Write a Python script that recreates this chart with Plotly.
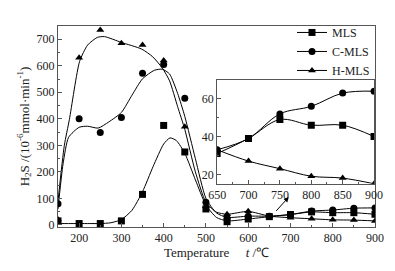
import plotly.graph_objects as go

# ---- data ----
temps = [150, 200, 250, 300, 350, 400, 450, 500, 550, 600, 650, 700, 750, 800, 850, 900]
mls   = [15, 5, 5, 15, 115, 375, 275, 60, 12, 22, 31, 39, 49, 46, 46, 40]
cmls  = [80, 400, 348, 405, 572, 605, 478, 85, 25, 33, 33, 39, 52, 56, 63, 64]
hmls  = [20, 630, 735, 685, 678, 620, 370, 70, 40, 51, 33, 27, 23, 19, 18, 15]

# smooth fitted curves (main panel, 150-550 range)
mls_fit_x  = [150, 175, 200, 225, 250, 275, 300, 325, 350, 375, 400, 415, 430, 450, 475, 500, 525, 550]
mls_fit_y  = [5, 5, 5, 5, 5, 8, 20, 55, 125, 220, 305, 328, 318, 270, 170, 75, 28, 15]
cmls_fit_x = [150, 162, 175, 200, 220, 245, 270, 300, 325, 350, 378, 397, 414, 433, 450, 475, 500, 525, 550]
cmls_fit_y = [60, 230, 330, 368, 372, 365, 388, 424, 489, 551, 583, 587, 569, 496, 409, 250, 100, 45, 28]
hmls_fit_x = [150, 165, 177, 201, 220, 243, 260, 300, 348, 374, 397, 414, 433, 450, 475, 500, 525, 550]
hmls_fit_y = [90, 300, 398, 616, 678, 707, 710, 688, 663, 634, 591, 543, 446, 360, 200, 85, 48, 40]

inset_x = [650, 700, 750, 800, 850, 900]
names = ["MLS", "C-MLS", "H-MLS"]
symbols = ["square", "circle", "triangle-up"]

FONT = "Liberation Serif"
fig = go.Figure()

series = [mls, cmls, hmls]
fits = [(mls_fit_x, mls_fit_y), (cmls_fit_x, cmls_fit_y), (hmls_fit_x, hmls_fit_y)]

for vals, (fx, fy), sym in zip(series, fits, symbols):
    tail_x = [t for t in temps if t > 550]
    tail_y = [v for t, v in zip(temps, vals) if t > 550]
    fig.add_trace(go.Scatter(x=fx + tail_x, y=fy + tail_y, mode="lines",
                             line=dict(color="black", width=1, shape="spline", smoothing=0.6),
                             showlegend=False, hoverinfo="skip"))
    fig.add_trace(go.Scatter(x=temps, y=vals, mode="markers",
                             marker=dict(symbol=sym, color="black", size=7),
                             showlegend=False))

for vals, sym, name in zip(series, symbols, names):
    iy = [v for t, v in zip(temps, vals) if t >= 650]
    fig.add_trace(go.Scatter(x=inset_x, y=iy, mode="lines+markers", name=name,
                             xaxis="x2", yaxis="y2",
                             line=dict(color="black", width=1, shape="spline"),
                             marker=dict(symbol=sym, color="black", size=7)))

axis_common = dict(showline=True, linecolor="#555", linewidth=1, mirror=True,
                   ticks="inside", ticklen=4, tickcolor="#555",
                   showgrid=False, zeroline=False,
                   tickfont=dict(family=FONT, size=12, color="#222"))

# page body has an 8px default margin: figure is shrunk/shifted to compensate
fig.update_layout(
    width=387, height=263,
    margin=dict(l=50, r=20, t=10, b=44),
    plot_bgcolor="white", paper_bgcolor="white",
    font=dict(family=FONT, size=12, color="#222"),
    xaxis=dict(range=[150, 900], dtick=100, tick0=0,
               minor=dict(dtick=50, ticks="inside", ticklen=2, tickcolor="#555"),
               title=dict(text="Temperature&nbsp;&nbsp;&nbsp;&nbsp;&nbsp;<i>t</i> /℃",
                          font=dict(family=FONT, size=13), standoff=2),
               **axis_common),
    yaxis=dict(range=[-8, 750], dtick=100, tick0=0,
               minor=dict(dtick=50, ticks="inside", ticklen=2, tickcolor="#555"),
               title=dict(text="H<sub>2</sub>S /(10<sup>-6</sup>mmol·min<sup>-1</sup>)",
                          font=dict(family=FONT, size=13), standoff=4),
               **axis_common),
    xaxis2=dict(domain=[0.502, 0.997], anchor="y2", range=[650, 900], dtick=50,
                minor=dict(dtick=25, ticks="inside", ticklen=2, tickcolor="#555"),
                **axis_common),
    yaxis2=dict(domain=[0.215, 0.732], anchor="x2", range=[15, 70], dtick=20, tick0=0,
                minor=dict(dtick=10, ticks="inside", ticklen=2, tickcolor="#555"),
                **axis_common),
    legend=dict(x=1.0, y=1.04, xanchor="right", yanchor="top",
                bgcolor="rgba(0,0,0,0)", font=dict(family=FONT, size=12),
                tracegroupgap=0, itemwidth=30),
    showlegend=True,
)

fig.add_annotation(x=696, y=105, ax=663, ay=47, xref="x", yref="y", axref="x", ayref="y",
                   showarrow=True, arrowhead=2, arrowsize=1, arrowwidth=1, arrowcolor="black", text="")

fig.write_html("out.html")
